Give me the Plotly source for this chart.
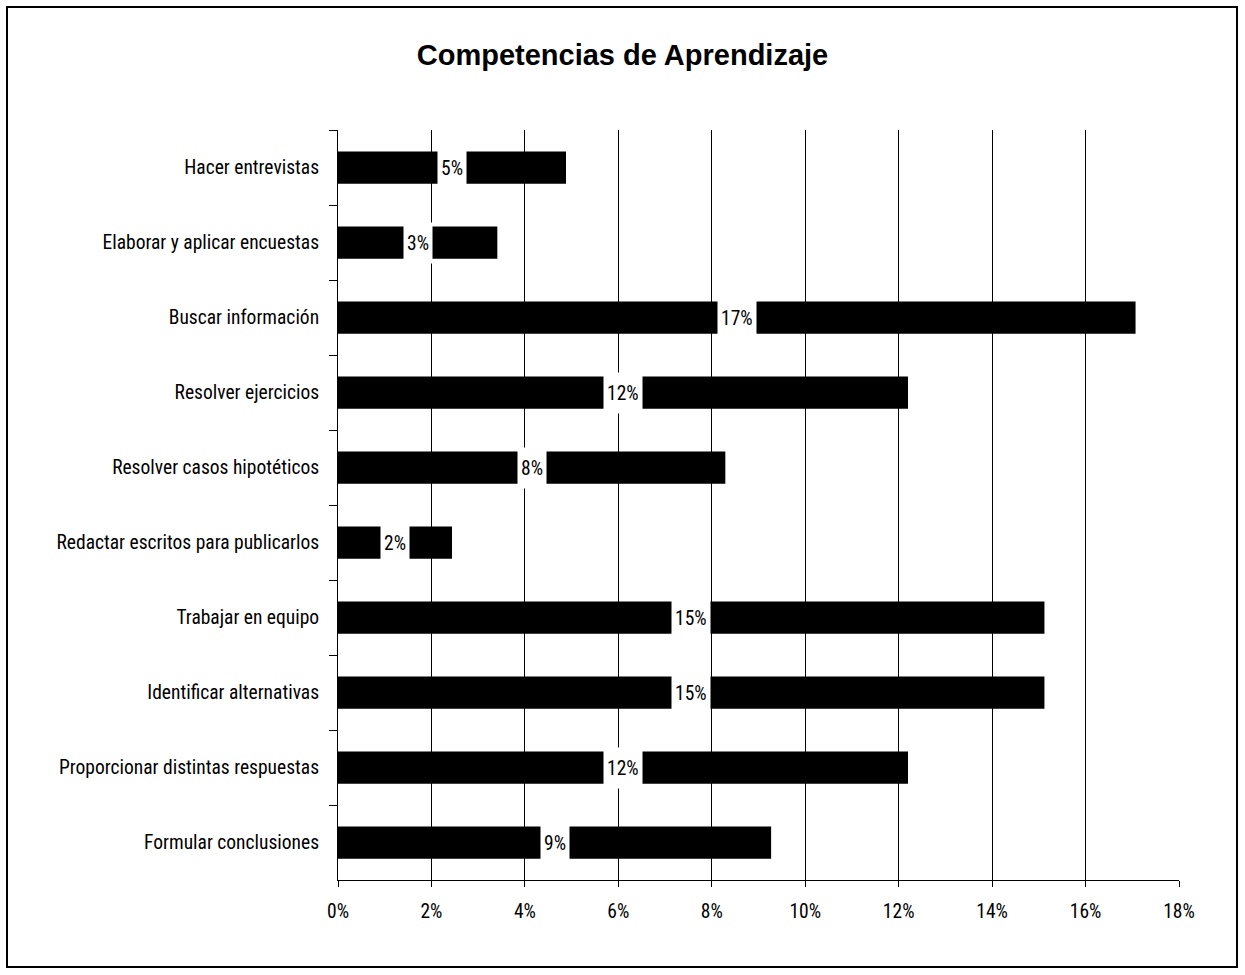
import plotly.graph_objects as go

categories = [
    "Hacer entrevistas",
    "Elaborar y aplicar encuestas",
    "Buscar información",
    "Resolver ejercicios",
    "Resolver casos hipotéticos",
    "Redactar escritos para publicarlos",
    "Trabajar en equipo",
    "Identificar alternativas",
    "Proporcionar distintas respuestas",
    "Formular conclusiones",
]
values = [4.88, 3.41, 17.07, 12.20, 8.29, 2.44, 15.12, 15.12, 12.20, 9.27]
label_texts = ["5%", "3%", "17%", "12%", "8%", "2%", "15%", "15%", "12%", "9%"]
x_ticks = [0, 2, 4, 6, 8, 10, 12, 14, 16, 18]
x_tick_labels = ["0%", "2%", "4%", "6%", "8%", "10%", "12%", "14%", "16%", "18%"]

FONT = "Liberation Sans Narrow, Arial Narrow, Roboto Condensed, Liberation Sans, sans-serif"
FS = 19.5

fig = go.Figure()
fig.add_trace(go.Bar(
    x=values, y=categories, orientation="h",
    marker=dict(color="black", line=dict(width=0)),
    width=0.43, hoverinfo="skip",
))

for cat, v, t in zip(categories, values, label_texts):
    fig.add_annotation(
        x=v / 2, y=cat, text=t, showarrow=False,
        bgcolor="white", font=dict(family=FONT, size=FS, color="black"),
        borderpad=3, height=34, xanchor="center", yanchor="middle",
    )

fig.add_shape(type="rect", xref="paper", yref="paper",
              x0=(7 - 338) / 841, x1=(1237 - 338) / 841,
              y0=(880 - 967) / 750, y1=(880 - 7) / 750,
              line=dict(color="black", width=2), fillcolor="rgba(0,0,0,0)",
              layer="below")

fig.update_layout(
    width=1245, height=975,
    margin=dict(l=338, r=66, t=130, b=95),
    paper_bgcolor="white", plot_bgcolor="white",
    showlegend=False,
    title=dict(text="<b>Competencias de Aprendizaje</b>", x=0.5, xref="container",
               y=1 - 55 / 975, yanchor="middle",
               font=dict(family="Liberation Sans, Arial, sans-serif", size=29, color="black")),
    font=dict(family=FONT, size=FS, color="black"),
    bargap=0.57,
)
fig.update_xaxes(
    range=[0, 18], tickvals=x_ticks, ticktext=x_tick_labels,
    showgrid=True, gridcolor="black", gridwidth=1,
    showline=True, linecolor="black", linewidth=1,
    ticks="outside", ticklen=6, tickcolor="black",
    ticklabelstandoff=8,
    zeroline=False, fixedrange=True,
    tickfont=dict(family=FONT, size=FS),
)
fig.update_yaxes(
    autorange="reversed", categoryorder="array", categoryarray=categories,
    showline=True, linecolor="black", linewidth=1,
    ticks="outside", tickson="boundaries", ticklen=8, tickcolor="black",
    ticklabelstandoff=14,
    showgrid=False, fixedrange=True,
    tickfont=dict(family=FONT, size=FS),
)

fig.write_html("out.html", config={"displayModeBar": False},
               post_script="document.body.style.margin='0';")
